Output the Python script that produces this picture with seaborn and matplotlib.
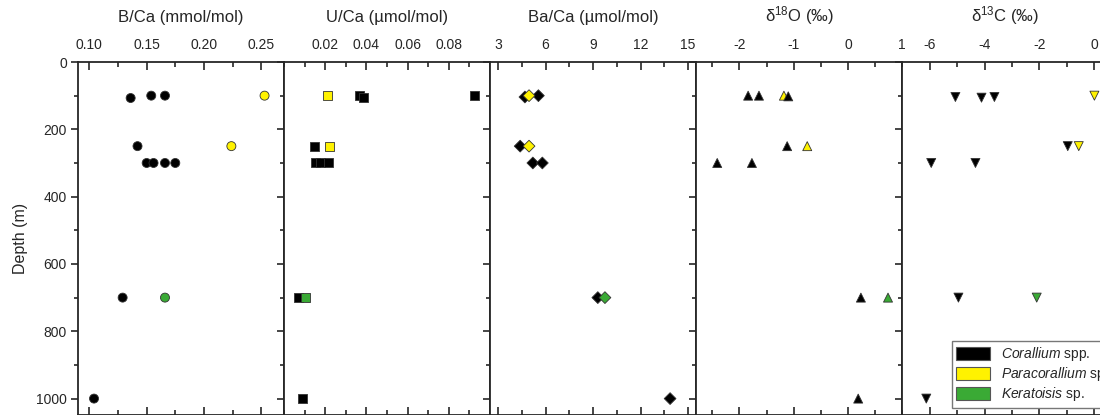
import numpy as np
import pandas as pd
import matplotlib.pyplot as plt
import seaborn as sns
from matplotlib.patches import Patch
from matplotlib.ticker import MultipleLocator, FixedLocator, FormatStrFormatter

# Valores (profundidade em m)
taxa = ["Corallium", "Paracorallium", "Keratoisis"]
cores = {"Corallium": "#000000", "Paracorallium": "#FFF200", "Keratoisis": "#3AAA35"}

bca_depth = [107, 100, 100, 100, 250, 250, 300, 300, 300, 300, 700, 700, 1000]
bca_value = [0.136, 0.154, 0.166, 0.253, 0.142, 0.224, 0.150, 0.156, 0.166, 0.175, 0.129, 0.166, 0.104]
bca_taxon = ["Corallium", "Corallium", "Corallium", "Paracorallium", "Corallium", "Paracorallium",
             "Corallium", "Corallium", "Corallium", "Corallium", "Corallium", "Keratoisis", "Corallium"]

uca_depth = [100, 100, 104, 100, 250, 250, 300, 300, 300, 700, 700, 1000]
uca_value = [0.021, 0.0366, 0.0385, 0.0924, 0.0146, 0.0223, 0.0155, 0.0175, 0.0214, 0.0070, 0.0103, 0.0089]
uca_taxon = ["Paracorallium", "Corallium", "Corallium", "Corallium", "Corallium", "Paracorallium",
             "Corallium", "Corallium", "Corallium", "Corallium", "Keratoisis", "Corallium"]

baca_depth = [104, 100, 100, 250, 250, 300, 300, 700, 700, 1000]
baca_value = [4.7, 5.55, 4.96, 4.4, 4.96, 5.2, 5.8, 9.3, 9.75, 13.86]
baca_taxon = ["Corallium", "Corallium", "Paracorallium", "Corallium", "Paracorallium",
              "Corallium", "Corallium", "Corallium", "Keratoisis", "Corallium"]

d18o_depth = [100, 100, 100, 102, 250, 250, 300, 300, 700, 700, 1000]
d18o_value = [-1.84, -1.64, -1.18, -1.10, -1.12, -0.75, -2.41, -1.77, 0.24, 0.74, 0.19]
d18o_taxon = ["Corallium", "Corallium", "Paracorallium", "Corallium", "Corallium", "Paracorallium",
              "Corallium", "Corallium", "Corallium", "Keratoisis", "Corallium"]

d13c_depth = [104, 106, 104, 100, 250, 250, 300, 300, 700, 700, 1000]
d13c_value = [-5.06, -4.11, -3.64, 0.0, -0.97, -0.57, -5.94, -4.33, -4.95, -2.1, -6.12]
d13c_taxon = ["Corallium", "Corallium", "Corallium", "Paracorallium", "Corallium", "Paracorallium",
              "Corallium", "Corallium", "Corallium", "Keratoisis", "Corallium"]

sns.set_style("ticks")
plt.rcParams["font.family"] = ["Liberation Sans", "DejaVu Sans"]
plt.rcParams["mathtext.fontset"] = "custom"
plt.rcParams["mathtext.rm"] = "Liberation Sans"
plt.rcParams["mathtext.it"] = "Liberation Sans:italic"
plt.rcParams["axes.unicode_minus"] = False

paineis = [
    (bca_depth, bca_value, bca_taxon, "B/Ca (mmol/mol)", (0.09, 0.27), [0.10, 0.15, 0.20, 0.25], 0.025, "o", "%.2f"),
    (uca_depth, uca_value, uca_taxon, "U/Ca (µmol/mol)", (0.0, 0.1), [0.02, 0.04, 0.06, 0.08], 0.01, "s", "%.2f"),
    (baca_depth, baca_value, baca_taxon, "Ba/Ca (µmol/mol)", (2.5, 15.5), [3, 6, 9, 12, 15], 1.5, "D", "%d"),
    (d18o_depth, d18o_value, d18o_taxon, "δ$^{18}$O (‰)", (-2.8, 1.0), [-2, -1, 0, 1], 0.5, "^", "%d"),
    (d13c_depth, d13c_value, d13c_taxon, "δ$^{13}$C (‰)", (-7, 0.5), [-6, -4, -2, 0], 1, "v", "%d"),
]

fig = plt.figure(figsize=(11, 4.15), dpi=100)
esq, larg, base, alt = 0.0709, 0.1873, -0.001, 0.8516

for i, (dep, val, tax, titulo, xlim, ticks, minor, marc, fmt) in enumerate(paineis):
    ax = fig.add_axes([esq + i * larg, base, larg, alt])
    df = pd.DataFrame({"depth": dep, "value": val, "taxon": tax})
    tam = 42 if marc != "D" else 36
    sns.scatterplot(data=df, x="value", y="depth", hue="taxon", palette=cores, marker=marc,
                    s=tam, edgecolor="#333333", linewidth=0.6, legend=False, ax=ax, zorder=3)
    ax.set_xlim(*xlim)
    ax.set_ylim(1050, 0)
    ax.xaxis.set_major_locator(FixedLocator(ticks))
    ax.xaxis.set_minor_locator(MultipleLocator(minor))
    ax.xaxis.set_major_formatter(FormatStrFormatter(fmt))
    ax.yaxis.set_major_locator(MultipleLocator(200))
    ax.yaxis.set_minor_locator(MultipleLocator(100))
    ax.xaxis.set_label_position("top")
    ax.set_xlabel(titulo, fontsize=12, labelpad=12)
    ax.tick_params(axis="x", which="both", direction="in", top=True, bottom=True,
                   labeltop=True, labelbottom=False, labelsize=10, pad=7, width=1.2)
    ax.tick_params(axis="x", which="major", length=6)
    ax.tick_params(axis="x", which="minor", length=3.5)
    ax.tick_params(axis="y", which="both", direction="out", left=True, right=False, width=1.2)
    ax.tick_params(axis="y", which="major", length=5)
    ax.tick_params(axis="y", which="minor", length=3)
    for sp in ax.spines.values():
        sp.set_linewidth(1.3)
        sp.set_visible(True)
    if i == 0:
        ax.set_ylabel("Depth (m)", fontsize=11.5, labelpad=6)
        ax.tick_params(axis="y", labelsize=10, pad=3)
    else:
        ax.set_ylabel("")
        ax.tick_params(axis="y", labelleft=False)

# legenda com retângulos coloridos
handles = [Patch(facecolor=cores[t], edgecolor="#555555", linewidth=0.8) for t in taxa]
nomes = [r"$\it{Corallium}$ spp.", r"$\it{Paracorallium}$ spp.", r"$\it{Keratoisis}$ sp."]
fig.legend(handles, nomes, loc="upper left", bbox_to_anchor=(0.8655, 0.178), fontsize=10,
           frameon=True, fancybox=False, edgecolor="#777777", framealpha=1,
           handlelength=2.4, handleheight=1.1, handletextpad=0.8, labelspacing=0.15,
           borderpad=0.3, borderaxespad=0)

plt.savefig("out.png", dpi=100)
plt.close()
